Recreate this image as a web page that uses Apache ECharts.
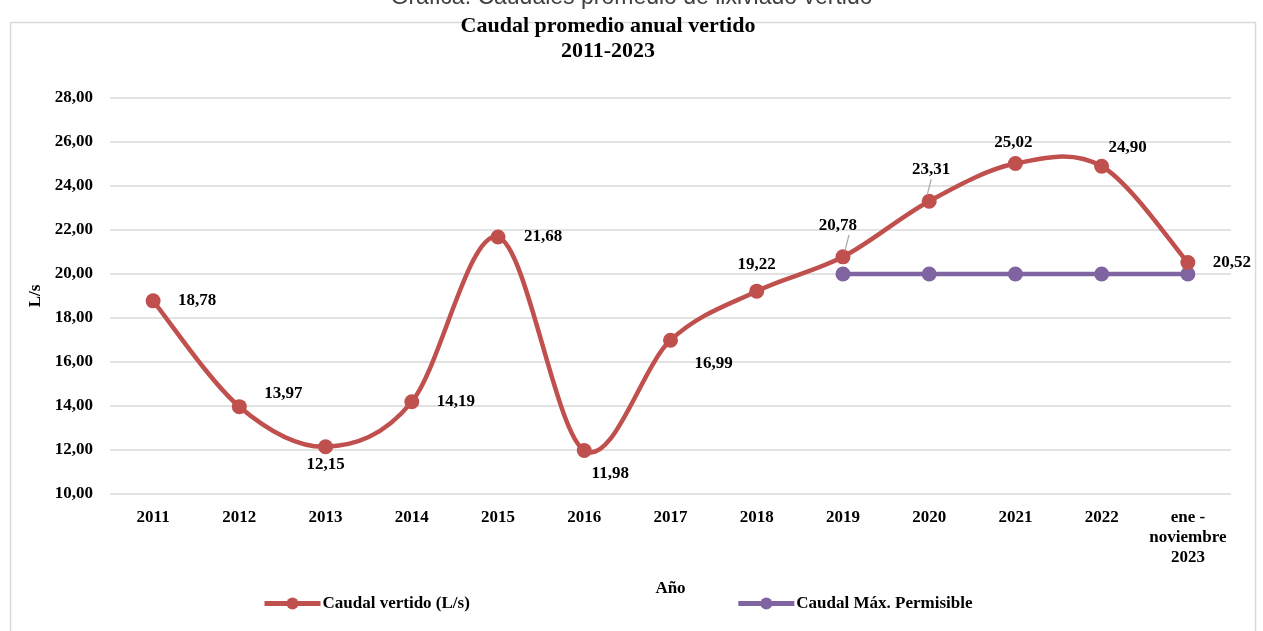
<!DOCTYPE html>
<html>
<head>
<meta charset="utf-8">
<script src="https://cdn.jsdelivr.net/npm/echarts@6/dist/echarts.min.js"></script>
<style>
  html, body { margin: 0; padding: 0; background: #fff; }
  #chart { width: 1263px; height: 631px; }
</style>
</head>
<body>
<div id="chart"></div>
<script>
// Categories (years)
var anios = ['2011', '2012', '2013', '2014', '2015', '2016', '2017', '2018', '2019', '2020', '2021', '2022', 'ene -\nnoviembre\n2023'];

// Caudal vertido (L/s)
var caudalVertido = [18.78, 13.97, 12.15, 14.19, 21.68, 11.98, 16.99, 19.22, 20.78, 23.31, 25.02, 24.90, 20.52];

// Caudal maximo permisible (only from 2019)
var caudalMaximo = [null, null, null, null, null, null, null, null, 20, 20, 20, 20, 20];

// Y axis ticks
var yMin = 10;
var yMax = 28;
var yStep = 2;

var chart_element = document.getElementById('chart');

if (chart_element) {
    var chart = echarts.init(chart_element);

    var rojo = '#C0504D';
    var morado = '#8064A2';
    var serif = '"Liberation Serif", "Times New Roman", serif';

    // label offsets, roughly like the Excel placement
    var labelOffsets = [
        [44, 0], [44, -13], [0, 18], [44, 0], [45, 0], [26, 23], [43, 23],
        [0, -27], [-5, -31], [2, -32], [-2, -21], [26, -19], [44, 0]
    ];

    var redData = caudalVertido.map(function (v, i) {
        return {
            value: v,
            label: { offset: labelOffsets[i] }
        };
    });

    // Excel style smoothing (bezier, control points at 1/6 of neighbour diff)
    var curveData = caudalVertido.map(function (v, i) { return [i, v]; });
    var n = caudalVertido.length;

    var renderCurve = function (params, api) {
        var i = params.dataIndex;
        if (i >= n - 1) {
            return;
        }
        var p0 = api.coord([Math.max(i - 1, 0), api.value(1, Math.max(i - 1, 0))]);
        var p1 = api.coord([i, api.value(1, i)]);
        var p2 = api.coord([i + 1, api.value(1, i + 1)]);
        var p3 = api.coord([Math.min(i + 2, n - 1), api.value(1, Math.min(i + 2, n - 1))]);
        return {
            type: 'bezierCurve',
            shape: {
                x1: p1[0], y1: p1[1],
                x2: p2[0], y2: p2[1],
                cpx1: p1[0] + (p2[0] - p0[0]) / 6,
                cpy1: p1[1] + (p2[1] - p0[1]) / 6,
                cpx2: p2[0] - (p3[0] - p1[0]) / 6,
                cpy2: p2[1] - (p3[1] - p1[1]) / 6
            },
            style: {
                fill: null,
                stroke: rojo,
                lineWidth: 4.5,
                lineCap: 'round'
            },
            silent: true
        };
    };

    var guideLine = function (from, to) {
        return {
            type: 'line',
            shape: { x1: from[0], y1: from[1], x2: to[0], y2: to[1] },
            style: { stroke: '#A6A6A6', lineWidth: 1.2 },
            silent: true,
            z: 5
        };
    };

    chart.setOption({
        animation: false,
        textStyle: {
            fontFamily: serif
        },

        graphic: [
            {
                type: 'rect',
                shape: { x: 10.5, y: 22.5, width: 1245, height: 620 },
                style: { fill: 'none', stroke: '#D9D9D9', lineWidth: 1.5 },
                silent: true
            },
            {
                type: 'text',
                left: 'center',
                top: -14,
                style: {
                    text: 'Gráfica: Caudales promedio de lixiviado vertido',
                    fontFamily: '"Liberation Sans", Arial, sans-serif',
                    fontSize: 23,
                    fill: '#404040'
                }
            },
            {
                // chart title
                type: 'text',
                x: 608,
                y: 14,
                style: {
                    text: 'Caudal promedio anual vertido\n2011-2023',
                    align: 'center',
                    fontFamily: serif,
                    fontSize: 22,
                    fontWeight: 'bold',
                    fill: '#000',
                    lineHeight: 25
                }
            }
        ],

        grid: {
            left: 110,
            right: 32,
            top: 98,
            bottom: 137
        },

        legend: {
            bottom: 14,
            left: 257,
            itemWidth: 56,
            itemHeight: 15,
            itemGap: 266,
            textStyle: {
                fontFamily: serif,
                fontSize: 17,
                fontWeight: 'bold',
                color: '#000',
                padding: [0, 0, 0, -3]
            },
            data: [
                { name: 'Caudal vertido (L/s)', lineStyle: { color: rojo, width: 5, opacity: 1 } },
                { name: 'Caudal Máx. Permisible', lineStyle: { color: morado, width: 5, opacity: 1 } }
            ]
        },

        xAxis: {
            type: 'category',
            data: anios,
            boundaryGap: true,
            name: 'Año',
            nameLocation: 'middle',
            nameGap: 86,
            nameTextStyle: {
                fontFamily: serif,
                fontSize: 17,
                fontWeight: 'bold',
                color: '#000'
            },
            axisLine: { show: false },
            axisTick: { show: false },
            axisLabel: {
                margin: 14,
                fontFamily: serif,
                fontSize: 17,
                fontWeight: 'bold',
                color: '#000',
                lineHeight: 20,
                interval: 0
            }
        },

        yAxis: {
            type: 'value',
            min: yMin,
            max: yMax,
            interval: yStep,
            name: 'L/s',
            nameLocation: 'middle',
            nameGap: 60,
            nameRotate: 90,
            nameTextStyle: {
                fontFamily: serif,
                fontSize: 17,
                fontWeight: 'bold',
                color: '#000'
            },
            axisLine: { show: false },
            axisTick: { show: false },
            axisLabel: {
                margin: 17,
                fontFamily: serif,
                fontSize: 17,
                fontWeight: 'bold',
                color: '#000',
                formatter: function (v) {
                    return v.toFixed(2).replace('.', ',');
                }
            },
            splitLine: {
                lineStyle: { color: '#D9D9D9', width: 1.5 }
            }
        },

        series: [
            {
                // smoothed curve of the red series
                type: 'custom',
                coordinateSystem: 'cartesian2d',
                data: curveData,
                renderItem: renderCurve,
                z: 2,
                silent: true,
                tooltip: { show: false }
            },
            {
                // leader lines for two labels
                type: 'custom',
                coordinateSystem: 'cartesian2d',
                data: [[8, caudalVertido[8]], [9, caudalVertido[9]]],
                renderItem: function (params, api) {
                    var p = api.coord([api.value(0), api.value(1)]);
                    var dx = params.dataIndex === 0 ? -1 : 1;
                    return guideLine([p[0] - 2 * dx, p[1] - 6], [p[0] - 6 * dx + (dx > 0 ? 8 : 0), p[1] - 22]);
                },
                z: 5,
                silent: true
            },
            {
                name: 'Caudal vertido (L/s)',
                type: 'line',
                data: redData,
                z: 4,
                symbol: 'circle',
                symbolSize: 15,
                color: rojo,
                lineStyle: { width: 0, opacity: 0 },
                itemStyle: { color: rojo },
                label: {
                    show: true,
                    position: 'inside',
                    fontFamily: serif,
                    fontSize: 17,
                    fontWeight: 'bold',
                    color: '#000',
                    formatter: function (p) {
                        return p.value.toFixed(2).replace('.', ',');
                    }
                }
            },
            {
                name: 'Caudal Máx. Permisible',
                type: 'line',
                data: caudalMaximo,
                z: 3,
                symbol: 'circle',
                symbolSize: 15,
                color: morado,
                lineStyle: { width: 4.5, color: morado },
                itemStyle: { color: morado }
            }
        ]
    });
}
</script>
</body>
</html>
